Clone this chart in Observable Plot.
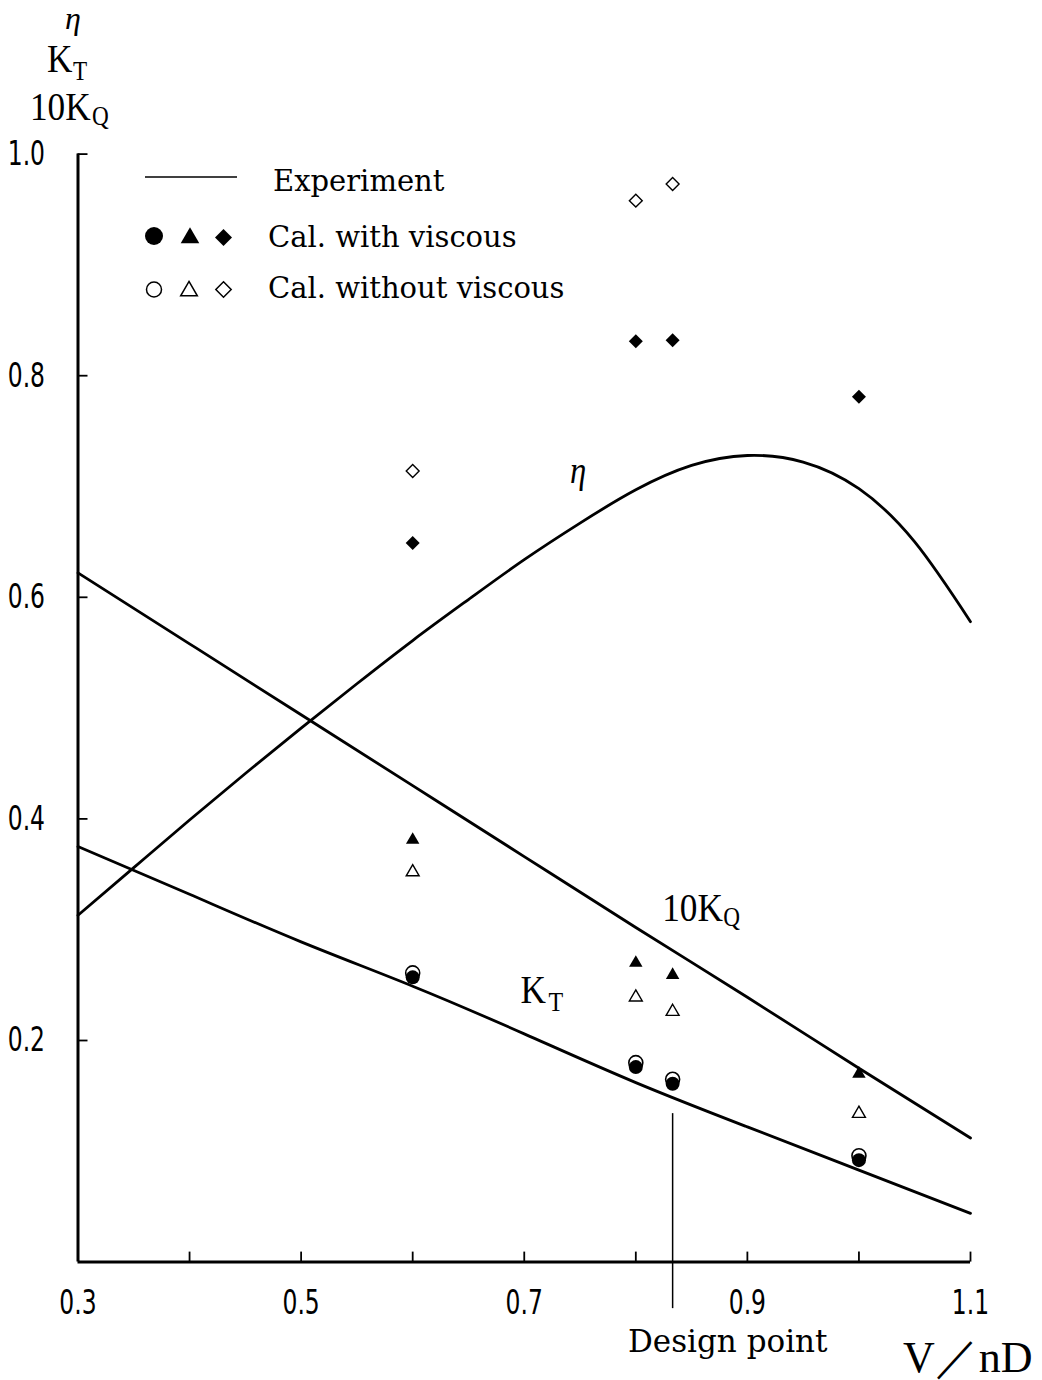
<!DOCTYPE html>
<html>
<head>
<meta charset="utf-8">
<script src="https://cdn.jsdelivr.net/npm/d3@7"></script>
<script src="https://cdn.jsdelivr.net/npm/@observablehq/plot@0.6"></script>
<style>
html,body{margin:0;padding:0;background:#fff;}
#chart{width:1042px;height:1380px;}
</style>
</head>
<body>
<div id="chart"></div>
<script>
// ---------- data ----------
const jEta = [0.30,0.35,0.40,0.45,0.50,0.55,0.60,0.65,0.70,0.75,0.80,0.85,0.90,0.95,1.00,1.05,1.10];
const etaExperiment = [0.313,0.356,0.399,0.441,0.482,0.522,0.561,0.598,0.634,0.667,0.697,0.719,0.728,0.722,0.698,0.650,0.578];
const jThrust = [0.3,0.4,0.5,0.6,0.7,0.8,0.9,1.0,1.1];
const ktExperiment = [0.375,0.332,0.289,0.249,0.206,0.162,0.122,0.083,0.044];
const kq10Experiment = [0.622,0.558,0.494,0.430,0.366,0.302,0.239,0.175,0.112];

const jCal = [0.6,0.8,0.833,1.0];
const ktWithViscous = [0.257,0.176,0.161,0.092];
const ktWithoutViscous = [0.261,0.180,0.165,0.096];
const kq10WithViscous = [0.381,0.270,0.259,0.170];
const kq10WithoutViscous = [0.352,0.239,0.226,0.134];
const etaWithViscous = [0.649,0.831,0.832,0.781];
const jEtaWithoutViscous = [0.6,0.8,0.833];
const etaWithoutViscous = [0.714,0.958,0.973];

const designPoint = [0.833];
const designRuleSpan = [0.134,-0.042];

const xTickMarks = [0.4,0.5,0.6,0.7,0.8,0.9,1.0,1.1];
const xTickLabels = [0.3,0.5,0.7,0.9,1.1];
const yTicks = [0.2,0.4,0.6,0.8,1.0];

const etaLabel = [{x:0.741, y:0.703, text:"η"}];
const kqLabel = [{x:0.8237, y:0.3083, text:"10K", sub:"Q"}];
const ktLabel = [{x:0.6967, y:0.2337, text:"K", sub:"T"}];

const legendLabels = ["Experiment","Cal. with viscous","Cal. without viscous"];
const xAxisTitle = "V／nD";
const designLabel = "Design point";

// ---------- helpers ----------
const rows = (xs, ys) => xs.map((x, i) => ({x, y: ys[i]}));
const SERIF = "Liberation Serif, DejaVu Serif, serif";
const LEG = "DejaVu Serif, Liberation Serif, serif";

const chart = Plot.plot({
  width: 1042, height: 1380,
  marginLeft: 77.5, marginRight: 72, marginTop: 153.6, marginBottom: 118.4,
  x: {domain: [0.3, 1.1], label: null},
  y: {domain: [0, 1], label: null},
  style: {background: "#fff", color: "#000", overflow: "visible"},
  marks: [
    Plot.axisX(xTickMarks, {tickSize: -10, strokeWidth: 1.8, tickFormat: () => "", label: null}),
    Plot.axisX(xTickLabels, {tickSize: 0, tickPadding: 28, tickFormat: d3.format(".1f"), fontSize: 34, fontFamily: "DejaVu Sans", label: null}),
    Plot.axisY(yTicks, {tickSize: -10, strokeWidth: 1.8, tickFormat: () => "", label: null}),
    Plot.axisY(yTicks, {tickSize: 0, tickPadding: 33, tickFormat: d3.format(".1f"), fontSize: 34, fontFamily: "DejaVu Sans", label: null}),
    Plot.ruleX([0.3], {strokeWidth: 3}),
    Plot.ruleY([0], {strokeWidth: 3}),
    Plot.ruleX(designPoint, {y1: designRuleSpan[0], y2: designRuleSpan[1], strokeWidth: 1.5}),
    Plot.line(rows(jEta, etaExperiment), {x: "x", y: "y", curve: "natural", strokeWidth: 2.8}),
    Plot.line(rows(jThrust, ktExperiment), {x: "x", y: "y", curve: "natural", strokeWidth: 2.8}),
    Plot.line(rows(jThrust, kq10Experiment), {x: "x", y: "y", curve: "natural", strokeWidth: 2.8}),
    Plot.dot(rows(jCal, ktWithoutViscous), {x: "x", y: "y", r: 7, fill: "#fff", stroke: "#000", strokeWidth: 1.6}),
    Plot.dot(rows(jCal, ktWithViscous), {x: "x", y: "y", r: 7, fill: "#000"}),
    Plot.dot(rows(jCal, kq10WithViscous), {x: "x", y: "y", symbol: "triangle", r: 5, fill: "#000"}),
    Plot.dot(rows(jCal, kq10WithoutViscous), {x: "x", y: "y", symbol: "triangle", r: 4.8, fill: "#fff", stroke: "#000", strokeWidth: 1.4}),
    Plot.dot(rows(jCal, etaWithViscous), {x: "x", y: "y", symbol: "diamond2", r: 6.3, fill: "#000"}),
    Plot.dot(rows(jEtaWithoutViscous, etaWithoutViscous), {x: "x", y: "y", symbol: "diamond2", r: 5.8, fill: "#fff", stroke: "#000", strokeWidth: 1.4}),
    Plot.text(etaLabel, {x: "x", y: "y", text: "text", textAnchor: "start", lineAnchor: "bottom", fontSize: 38, fontStyle: "italic", fontFamily: SERIF}),
    Plot.text(kqLabel, {x: "x", y: "y", text: "text", textAnchor: "start", lineAnchor: "bottom", fontSize: 41, fontFamily: SERIF}),
    Plot.text(kqLabel, {x: "x", y: "y", text: "sub", textAnchor: "start", lineAnchor: "bottom", fontSize: 27, fontFamily: SERIF, dx: 61, dy: 5}),
    Plot.text(ktLabel, {x: "x", y: "y", text: "text", textAnchor: "start", lineAnchor: "bottom", fontSize: 41, fontFamily: SERIF}),
    Plot.text(ktLabel, {x: "x", y: "y", text: "sub", textAnchor: "start", lineAnchor: "bottom", fontSize: 28, fontFamily: SERIF, dx: 28, dy: 7.5})
  ]
});

document.getElementById("chart").appendChild(chart);

// condense text horizontally (the original typeface is narrow)
function condense(nodes, k) {
  nodes.forEach(t => {
    const tr = t.getAttribute("transform");
    if (tr) t.setAttribute("transform", tr + ` scale(${k},1)`);
    else {
      const x = +t.getAttribute("x") || 0;
      t.removeAttribute("x");
      t.setAttribute("transform", `translate(${x},0) scale(${k},1)`);
    }
  });
}
condense(chart.querySelectorAll('g[aria-label="x-axis tick label"] text, g[aria-label="y-axis tick label"] text'), 0.69);
condense(chart.querySelectorAll('g[aria-label="text"] text'), 0.86);

// ---------- decorations: axis titles and legend ----------
const svg = d3.select(chart);
function addText(x, y, text, size, family, opts = {}) {
  svg.append("text")
    .attr("transform", `translate(${x},${y}) scale(${opts.sx ?? 1},1)`)
    .attr("text-anchor", opts.anchor || "start")
    .attr("font-size", size)
    .attr("font-family", family)
    .attr("font-style", opts.italic ? "italic" : "normal")
    .attr("fill", "#000")
    .text(text);
}
// y-axis title stack
addText(73, 29, "η", 32, SERIF, {italic: true, anchor: "middle"});
addText(47, 72, "K", 41, SERIF, {sx: 0.86});
addText(73, 80, "T", 27, SERIF, {sx: 0.86});
addText(30, 120, "10K", 41, SERIF, {sx: 0.86});
addText(92, 125, "Q", 27, SERIF, {sx: 0.86});
// x-axis title and design point
addText(628, 1352, designLabel, 31, LEG);
addText(903, 1372, xAxisTitle, 44, SERIF);

// legend
svg.append("line").attr("x1", 145).attr("x2", 237).attr("y1", 177).attr("y2", 177)
  .attr("stroke", "#000").attr("stroke-width", 1.6);
addText(273, 191, legendLabels[0], 29, LEG);
const sym = (type, size) => d3.symbol(type, size)();
const legendSymbols = [
  {t: d3.symbolCircle, s: 254, x: 154, y: 236, filled: true},
  {t: d3.symbolTriangle, s: 150, x: 190, y: 238, filled: true},
  {t: d3.symbolDiamond2, s: 184, x: 223.5, y: 237.5, filled: true},
  {t: d3.symbolCircle, s: 177, x: 154, y: 289.5, filled: false},
  {t: d3.symbolTriangle, s: 120, x: 189, y: 291, filled: false},
  {t: d3.symbolDiamond2, s: 150, x: 223.5, y: 289.5, filled: false}
];
legendSymbols.forEach(d => {
  svg.append("path").attr("d", sym(d.t, d.s))
    .attr("transform", `translate(${d.x},${d.y})`)
    .attr("fill", d.filled ? "#000" : "#fff")
    .attr("stroke", d.filled ? "none" : "#000")
    .attr("stroke-width", 1.5);
});
addText(268, 247, legendLabels[1], 29, LEG);
addText(268, 298, legendLabels[2], 29, LEG);
</script>
</body>
</html>
